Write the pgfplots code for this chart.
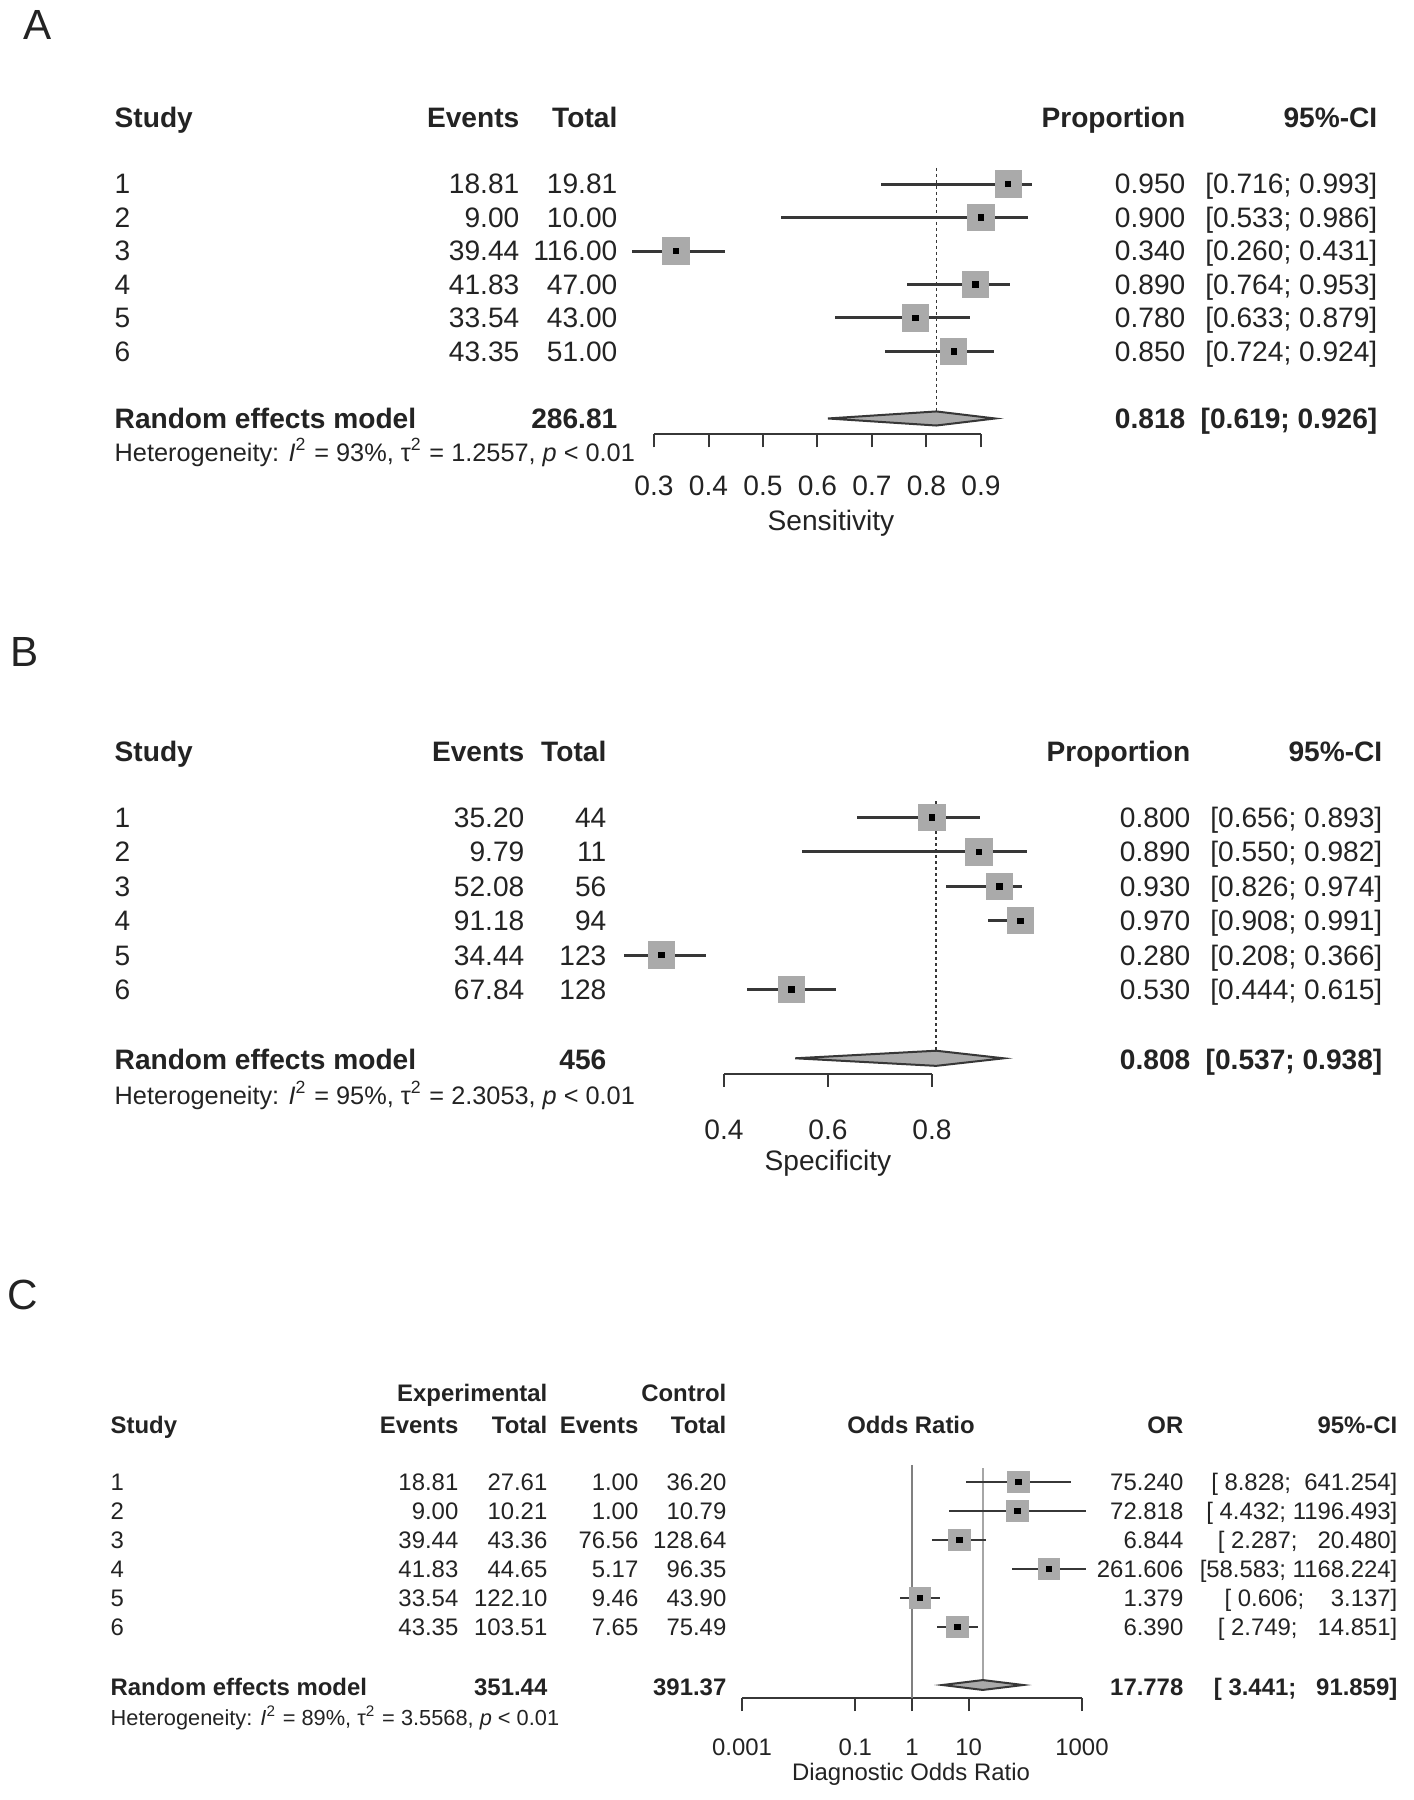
\documentclass[border=0pt]{standalone}
\usepackage{fontspec}
\setmainfont{Liberation Sans}
\usepackage{pgfplots}
\usepackage{pgfplotstable}
\pgfplotsset{compat=1.18}
\definecolor{sqgray}{RGB}{170,170,170}
\definecolor{cigray}{RGB}{55,55,55}
\definecolor{txt}{RGB}{35,35,35}
\newcommand{\fA}{\fontsize{8}{9.6}\selectfont}
\newcommand{\fH}{\fontsize{7.2}{8.6}\selectfont}
\newcommand{\fC}{\fontsize{6.8}{8.2}\selectfont}
\newcommand{\fHC}{\fontsize{6.2}{7.4}\selectfont}
\newcommand{\fL}{\fontsize{12}{14}\selectfont}

% row est lo hi
\pgfplotstableread{
row est lo hi
1 0.950 0.716 0.993
2 0.900 0.533 0.986
3 0.340 0.260 0.431
4 0.890 0.764 0.953
5 0.780 0.633 0.879
6 0.850 0.724 0.924
}\sensA
\pgfplotstableread{
row est lo hi
1 0.800 0.656 0.893
2 0.890 0.550 0.982
3 0.930 0.826 0.974
4 0.970 0.908 0.991
5 0.280 0.208 0.366
6 0.530 0.444 0.615
}\specB
\pgfplotstableread{
row est lo hi
1 75.240 8.828 641.254
2 72.818 4.432 1196.493
3 6.844 2.287 20.480
4 261.606 58.583 1168.224
5 1.379 0.606 3.137
6 6.390 2.749 14.851
}\dorC

\tikzset{
  L/.style={anchor=base west, inner sep=0pt, text=txt},
  R/.style={anchor=base east, inner sep=0pt, text=txt},
  M/.style={anchor=base, inner sep=0pt, text=txt},
}
\pgfplotsset{
  forest/.style={
    anchor=south west, scale only axis, clip=false, enlargelimits=false,
    axis x line*=bottom, axis y line=none, ymax=0,
    x axis line style={-, cigray, line width=0.2mm},
    xtick align=outside, major tick length=1.3mm,
    tick style={cigray, line width=0.2mm},
    xticklabel style={anchor=center, inner sep=0pt, text=txt},
  },
  squares/.style={only marks, mark=square*, mark size=#1, mark options={fill=sqgray, draw=sqgray}},
  cis/.style={only marks, mark=square*, mark size=0.25mm, black,
    error bars/.cd, x dir=both, x explicit, error mark=none,
    error bar style={line width=#1, cigray}},
}

\begin{document}
\begin{tikzpicture}[x=0.1mm, y=-0.1mm]
\path[use as bounding box, fill=white] (0,0) rectangle (1413,1800);

% ---------------- A
\node[M, font=\fL] at (38,40) {A};
\node[L, font=\bfseries\fA] at (114,127.5) {Study};
\node[R, font=\bfseries\fA] at (520,127.5) {Events};
\node[R, font=\bfseries\fA] at (618,127.5) {Total};
\node[R, font=\bfseries\fA] at (1186,127.5) {Proportion};
\node[R, font=\bfseries\fA] at (1378,127.5) {95\%-CI};
\foreach \ev/\tot/\pr/\ci [count=\k] in {
  18.81/19.81/0.950/{[0.716; 0.993]}, 9.00/10.00/0.900/{[0.533; 0.986]},
  39.44/116.00/0.340/{[0.260; 0.431]}, 41.83/47.00/0.890/{[0.764; 0.953]},
  33.54/43.00/0.780/{[0.633; 0.879]}, 43.35/51.00/0.850/{[0.724; 0.924]}}{
  \pgfmathsetmacro\yy{194+(\k-1)*33.5}
  \node[L, font=\fA] at (114,\yy) {\k};
  \node[R, font=\fA] at (520,\yy) {\ev};
  \node[R, font=\fA] at (618,\yy) {\tot};
  \node[R, font=\fA] at (1186,\yy) {\pr};
  \node[R, font=\fA] at (1378,\yy) {\ci};
}
\node[L, font=\bfseries\fA] at (114,428.5) {Random effects model};
\node[R, font=\bfseries\fA] at (618,428.5) {286.81};
\node[R, font=\bfseries\fA] at (1186,428.5) {0.818};
\node[R, font=\bfseries\fA] at (1378,428.5) {[0.619; 0.926]};
\node[L, font=\fH] at (114,461.5) {Heterogeneity: \textit{I}\textsuperscript{2} = 93\%, τ\textsuperscript{2} = 1.2557, \textit{p} < 0.01};
\node[M, font=\fA] at (831,530) {Sensitivity};

\begin{axis}[forest, at={(65.4mm,-43.45mm)}, width=32.7mm, height=28.4mm,
  xmin=0.3, xmax=0.9, ymin=-8.478,
  xtick={0.3,0.4,0.5,0.6,0.7,0.8,0.9}, xticklabels={0.3,0.4,0.5,0.6,0.7,0.8,0.9},
  xticklabel style={font=\fA, yshift=-3.85mm}]
  \addplot[cigray, line width=0.15mm, dash pattern=on 0.3mm off 0.3mm] coordinates {(0.818,-0.52) (0.818,-7.79)};
  \addplot[squares=1.3mm] table[x=est, y expr=-\thisrow{row}] {\sensA};
  \addplot[cis=0.3mm] table[x=est, y expr=-\thisrow{row},
    x error plus expr=\thisrow{hi}-\thisrow{est}, x error minus expr=\thisrow{est}-\thisrow{lo}] {\sensA};
  \addplot[fill=sqgray, draw=cigray, line width=0.2mm] coordinates {(0.619,-8) (0.818,-7.79) (0.926,-8) (0.818,-8.21)} --cycle;
\end{axis}

% ---------------- B
\node[M, font=\fL] at (25,666) {B};
\node[L, font=\bfseries\fA] at (114,761) {Study};
\node[R, font=\bfseries\fA] at (525,761) {Events};
\node[R, font=\bfseries\fA] at (607,761) {Total};
\node[R, font=\bfseries\fA] at (1191,761) {Proportion};
\node[R, font=\bfseries\fA] at (1383,761) {95\%-CI};
\foreach \ev/\tot/\pr/\ci [count=\k] in {
  35.20/44/0.800/{[0.656; 0.893]}, 9.79/11/0.890/{[0.550; 0.982]},
  52.08/56/0.930/{[0.826; 0.974]}, 91.18/94/0.970/{[0.908; 0.991]},
  34.44/123/0.280/{[0.208; 0.366]}, 67.84/128/0.530/{[0.444; 0.615]}}{
  \pgfmathsetmacro\yy{827.5+(\k-1)*34.4}
  \node[L, font=\fA] at (114,\yy) {\k};
  \node[R, font=\fA] at (525,\yy) {\ev};
  \node[R, font=\fA] at (607,\yy) {\tot};
  \node[R, font=\fA] at (1191,\yy) {\pr};
  \node[R, font=\fA] at (1383,\yy) {\ci};
}
\node[L, font=\bfseries\fA] at (114,1069) {Random effects model};
\node[R, font=\bfseries\fA] at (607,1069) {456};
\node[R, font=\bfseries\fA] at (1191,1069) {0.808};
\node[R, font=\bfseries\fA] at (1383,1069) {[0.537; 0.938]};
\node[L, font=\fH] at (114,1104) {Heterogeneity: \textit{I}\textsuperscript{2} = 95\%, τ\textsuperscript{2} = 2.3053, \textit{p} < 0.01};
\node[M, font=\fA] at (828,1170) {Specificity};

\begin{axis}[forest, at={(72.4mm,-107.35mm)}, width=20.8mm, height=29.04mm,
  xmin=0.4, xmax=0.8, ymin=-8.442,
  xtick={0.4,0.6,0.8}, xticklabels={0.4,0.6,0.8},
  xticklabel style={font=\fA, yshift=-4.3mm}]
  \addplot[cigray, line width=0.15mm, dash pattern=on 0.3mm off 0.3mm] coordinates {(0.808,-0.52) (0.808,-7.78)};
  \addplot[squares=1.3mm] table[x=est, y expr=-\thisrow{row}] {\specB};
  \addplot[cis=0.3mm] table[x=est, y expr=-\thisrow{row},
    x error plus expr=\thisrow{hi}-\thisrow{est}, x error minus expr=\thisrow{est}-\thisrow{lo}] {\specB};
  \addplot[fill=sqgray, draw=cigray, line width=0.2mm] coordinates {(0.537,-8) (0.808,-7.78) (0.938,-8) (0.808,-8.22)} --cycle;
\end{axis}

% ---------------- C
\node[M, font=\fL] at (23,1309) {C};
\node[R, font=\bfseries\fC] at (548,1401.6) {Experimental};
\node[R, font=\bfseries\fC] at (727,1401.6) {Control};
\node[L, font=\bfseries\fC] at (110,1433.6) {Study};
\node[R, font=\bfseries\fC] at (459,1433.6) {Events};
\node[R, font=\bfseries\fC] at (548,1433.6) {Total};
\node[R, font=\bfseries\fC] at (639,1433.6) {Events};
\node[R, font=\bfseries\fC] at (727,1433.6) {Total};
\node[M, font=\bfseries\fC] at (911,1433.6) {Odds Ratio};
\node[R, font=\bfseries\fC] at (1184,1433.6) {OR};
\node[R, font=\bfseries\fC] at (1398,1433.6) {95\%-CI};
\foreach \ee/\et/\ce/\ct/\orv/\ci [count=\k] in {
  18.81/27.61/1.00/36.20/75.240/{[~8.828;~~641.254]},
  9.00/10.21/1.00/10.79/72.818/{[~4.432;~1196.493]},
  39.44/43.36/76.56/128.64/6.844/{[~2.287;~~~20.480]},
  41.83/44.65/5.17/96.35/261.606/{[58.583;~1168.224]},
  33.54/122.10/9.46/43.90/1.379/{[~0.606;~~~~3.137]},
  43.35/103.51/7.65/75.49/6.390/{[~2.749;~~~14.851]}}{
  \pgfmathsetmacro\yy{1490.6+(\k-1)*29}
  \node[L, font=\fC] at (110,\yy) {\k};
  \node[R, font=\fC] at (459,\yy) {\ee};
  \node[R, font=\fC] at (548,\yy) {\et};
  \node[R, font=\fC] at (639,\yy) {\ce};
  \node[R, font=\fC] at (727,\yy) {\ct};
  \node[R, font=\fC] at (1184,\yy) {\orv};
  \node[R, font=\fC] at (1398,\yy) {\ci};
}
\node[L, font=\bfseries\fC] at (110,1695.6) {Random effects model};
\node[R, font=\bfseries\fC] at (548,1695.6) {351.44};
\node[R, font=\bfseries\fC] at (727,1695.6) {391.37};
\node[R, font=\bfseries\fC] at (1184,1695.6) {17.778};
\node[R, font=\bfseries\fC] at (1398,1695.6) {[~3.441;~~~91.859]};
\node[L, font=\fHC] at (110,1725.8) {Heterogeneity: \textit{I}\textsuperscript{2} = 89\%, τ\textsuperscript{2} = 3.5568, \textit{p} < 0.01};
\node[M, font=\fC] at (911,1780.6) {Diagnostic Odds Ratio};

\begin{axis}[forest, at={(74.2mm,-169.8mm)}, width=34mm, height=24.5mm,
  xmode=log, xmin=0.001, xmax=1000, ymin=-8.448,
  xtick={0.001,0.1,1,10,1000}, xticklabels={0.001,0.1,1,10,1000},
  xticklabel style={font=\fC, yshift=-3.65mm}]
  \addplot[gray, line width=0.25mm] coordinates {(1,-0.41) (1,-8.448)};
  \addplot[gray!70, line width=0.15mm] coordinates {(17.778,-0.52) (17.778,-7.83)};
  \addplot[squares=1.05mm] table[x=est, y expr=-\thisrow{row}] {\dorC};
  \addplot[cis=0.25mm] table[x=est, y expr=-\thisrow{row},
    x error plus expr=\thisrow{hi}-\thisrow{est}, x error minus expr=\thisrow{est}-\thisrow{lo}] {\dorC};
  \addplot[fill=sqgray, draw=cigray, line width=0.2mm] coordinates {(3.441,-8) (17.778,-7.83) (91.859,-8) (17.778,-8.17)} --cycle;
\end{axis}
\end{tikzpicture}
\end{document}
